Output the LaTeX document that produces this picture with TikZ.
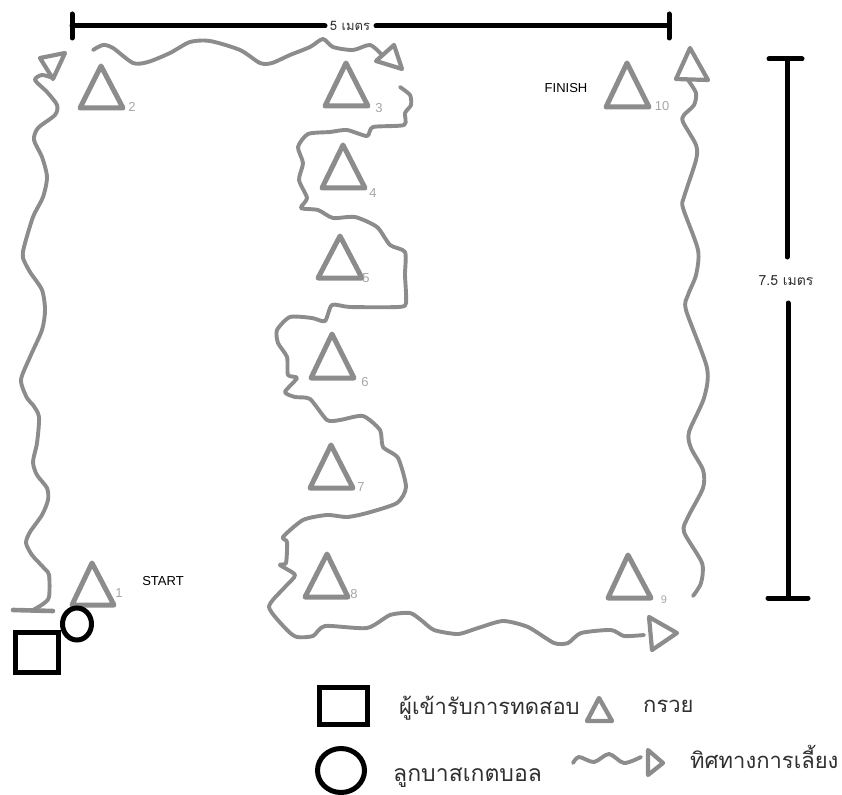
\documentclass[tikz,border=0pt]{standalone}
\usepackage{fontspec}
\setmainfont{Liberation Sans}
\newfontfamily\thaifont[Script=Thai]{Loma}
\definecolor{pathgray}{HTML}{8C8C8C}
\definecolor{numgray}{HTML}{A6A6A6}
\definecolor{textdark}{HTML}{303030}
\tikzset{
  wiggle/.style={draw=pathgray,line width=3.9pt,line cap=round,line join=round},
  headtri/.style={draw=pathgray,line width=4.2pt,line join=round},
  cone/.style={draw=pathgray,line width=5pt,line join=round},
  dimline/.style={draw=black,line width=5pt,line cap=round},
  blackshape/.style={draw=black,line width=5pt},
  num/.style={text=numgray,font=\fontsize{13}{13}\selectfont,inner sep=0pt},
  lbl/.style={text=black,font=\fontsize{13}{13}\selectfont,inner sep=0pt},
  dimlbl/.style={text=textdark,font=\fontsize{13}{14}\thaifont\selectfont,inner sep=0pt},
  legend/.style={text=textdark,anchor=west,inner sep=0pt,font=\fontsize{22}{24}\thaifont\selectfont},
}
\begin{document}
\begin{tikzpicture}[x=1pt,y=-1pt]
\useasboundingbox (0,0) rectangle (842,794);
% dimension lines
\coordinate (tl) at (72,26); \coordinate (tm1) at (325,26);
\coordinate (tm2) at (376,26); \coordinate (tr) at (669,26);
\node[dimlbl] (w) at (350,26) {5 เมตร};
\draw[dimline] (tl) -- (tm1);
\draw[dimline] (tm2) -- (tr);
\draw[dimline] (72,14) -- (72,38);
\draw[dimline] (669,14) -- (669,38);
\node[dimlbl,font=\fontsize{14}{15}\thaifont\selectfont] (h) at (786,281) {7.5 เมตร};
\coordinate (rt) at (787,59); \coordinate (rm1) at (787,257);
\coordinate (rm2) at (788,303); \coordinate (rb) at (788,598);
\draw[dimline] (rt) -- (rm1);
\draw[dimline] (rm2) -- (rb);
\draw[dimline] (769,59) -- (802,59);
\draw[dimline] (768,598) -- (808,598);
% start bar
\draw[wiggle,line width=4.6pt] (13,610) -- (53,611);
% left path
\draw[wiggle] plot[smooth,tension=0.45] coordinates {(33,610)(43,604)(49,597)(49,575)(43,567)(32,555)(26,543)(30,532)(42,515)(48,500)(47,488)(37,475)(33,462)(37,443)(39,417)(33,405)(27,398)(21,380)(30,357)(42,330)(45,310)(42,290)(30,272)(23,258)(24,247)(33,217)(43,197)(47,177)(42,157)(34,140)(38,128)(55,115)(57,105)(47,92)(35,80)(42,75)(53,78)};
\draw[headtri] (40,58) -- (65,53) -- (53,79) -- cycle;
% top path
\draw[wiggle] plot[smooth,tension=0.45] coordinates {(93,50)(103,45)(113,48)(133,63)(148,62)(170,53)(190,42)(210,41)(240,50)(260,63)(272,63)(290,55)(310,47)(323,39)(333,47)(353,50)(370,45)(382,55)};
\draw[headtri] (394,45) -- (402,69) -- (376,61) -- cycle;
% middle path
\draw[wiggle] plot[smooth,tension=0.4] coordinates {(400,87)(410,95)(411,105)(405,113)(404,125)(373,127)(367,136)(347,130)(330,132)(308,134)(298,147)(303,163)(299,180)(307,198)(301,208)(318,210)(333,218)(355,217)(377,227)(390,245)(405,252)(405,275)(406,303)(398,307)(350,307)(332,305)(325,321)(312,318)(290,317)(277,330)(278,343)(287,357)(288,375)(297,378)(285,392)(295,397)(310,399)(327,420)(340,420)(363,416)(380,430)(383,447)(398,458)(406,487)(397,503)(367,513)(347,517)(327,515)(303,520)(283,537)(287,542)(286,563)(280,565)(295,575)(285,587)(269,607)(287,630)(297,637)(313,636)(325,626)(367,628)(390,615)(410,613)(421,620)(434,630)(458,634)(478,628)(503,621)(528,627)(554,643)(568,643)(581,633)(611,630)(624,636)(644,635)};
\draw[headtri] (649,617) -- (677,633) -- (652,650) -- cycle;
% right path
\draw[wiggle] plot[smooth,tension=0.45] coordinates {(693,596)(701,583)(702,563)(684,532)(688,517)(703,488)(703,470)(691,448)(689,432)(704,398)(707,368)(686,310)(688,295)(696,275)(698,250)(683,208)(684,197)(696,160)(696,145)(683,122)(684,115)(694,105)(696,93)(688,80)};
\draw[headtri] (690,48) -- (708,80) -- (676,79) -- cycle;
% cones
\draw[cone] (92,563) -- (114,605) -- (72,605) -- cycle;
\draw[cone] (101,66) -- (123,108) -- (80,108) -- cycle;
\draw[cone] (346,63) -- (368,106) -- (325,106) -- cycle;
\draw[cone] (343,145) -- (365,188) -- (322,188) -- cycle;
\draw[cone] (340,236) -- (362,278) -- (318,278) -- cycle;
\draw[cone] (332,334) -- (354,378) -- (311,378) -- cycle;
\draw[cone] (331,445) -- (353,488) -- (310,488) -- cycle;
\draw[cone] (327,554) -- (348,597) -- (305,597) -- cycle;
\draw[cone] (628,555) -- (651,598) -- (608,598) -- cycle;
\draw[cone] (627,63) -- (649,107) -- (606,107) -- cycle;
% numbers
\node[num] (n1) at (119,593) {1};
\node[num] (n2) at (132,107) {2};
\node[num] (n3) at (379,108) {3};
\node[num] (n4) at (373,193) {4};
\node[num] (n5) at (366,278) {5};
\node[num] (n6) at (365,382) {6};
\node[num] (n7) at (361,487) {7};
\node[num] (n8) at (354,594) {8};
\node[num,font=\fontsize{11}{11}\selectfont] (n9) at (664,600) {9};
\node[num] (n10) at (662,106) {10};
\node[lbl] (start) at (163,581) {START};
\node[lbl] (finish) at (566,88) {FINISH};
% player and ball
\draw[blackshape] (15,632.5) rectangle (58.5,672.5);
\draw[blackshape] (77,624) ellipse (14.5 and 16);
% legend
\draw[blackshape] (319.5,687.5) rectangle (367.5,724.5);
\draw[blackshape] (341,770.5) ellipse (23.5 and 22);
\draw[cone,line width=4.4pt] (599,698) -- (612,721) -- (587,721) -- cycle;
\draw[wiggle] plot[smooth,tension=0.5] coordinates {(573,763)(579,757)(594,762)(609,754)(624,763)(641,757)};
\draw[headtri] (648,750) -- (663,763) -- (648,775) -- cycle;
\node[legend] (l1) at (399,708) {ผู้เข้ารับการทดสอบ};
\node[legend] (l2) at (643,706) {กรวย};
\node[legend,font=\fontsize{23}{24}\thaifont\selectfont] (l3) at (393,778) {ลูกบาสเกตบอล};
\node[legend] (l4) at (690,757) {ทิศทางการเลี้ยง};
\end{tikzpicture}
\end{document}
